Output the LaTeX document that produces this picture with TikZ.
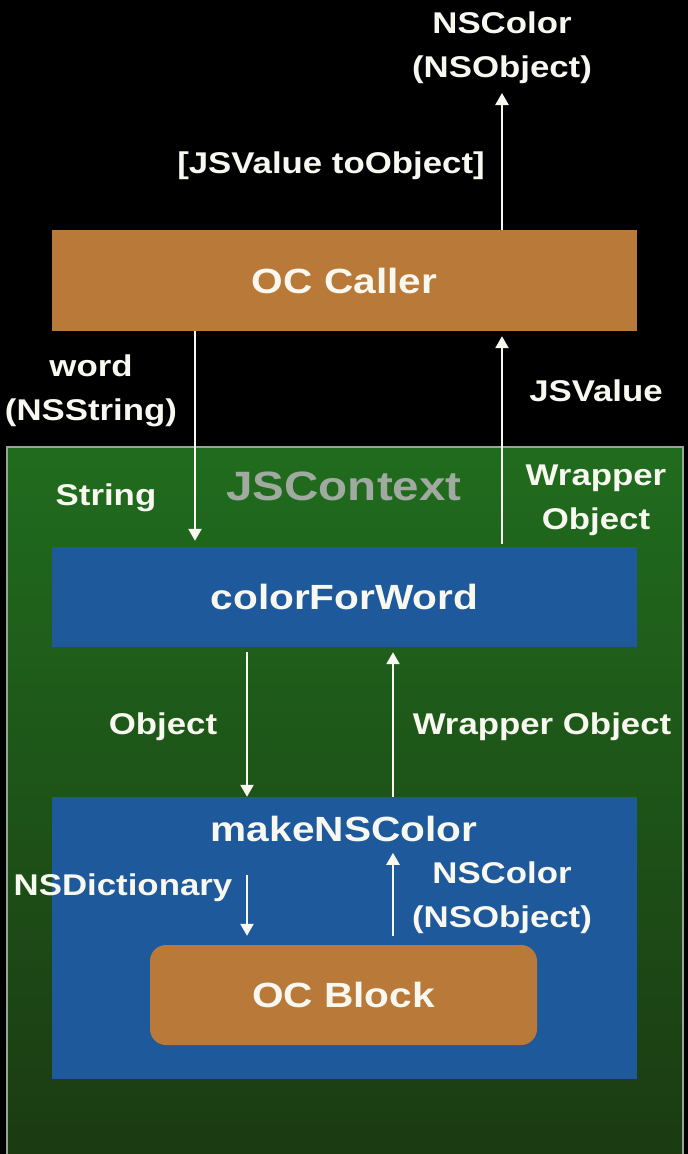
\documentclass[tikz,border=0pt]{standalone}
\usepackage{fontspec}
\setmainfont{Liberation Sans}[FakeStretch=1.16]
\usetikzlibrary{arrows.meta}
\definecolor{copper}{RGB}{185,121,56}
\definecolor{jsblue}{RGB}{30,90,155}
\definecolor{ctxtop}{RGB}{32,108,30}
\definecolor{ctxbot}{RGB}{27,58,18}
\definecolor{ctxline}{RGB}{150,165,150}
\definecolor{ctxtext}{RGB}{160,170,160}
\definecolor{txt}{RGB}{248,248,240}
\begin{document}
\begin{tikzpicture}[x=1pt,y=-1pt,
  box/.style={draw=none, inner sep=0pt, text=txt, font=\fontsize{35}{40}\selectfont\bfseries},
  lbl/.style={text=txt, align=center, inner sep=0pt, font=\fontsize{30}{44}\selectfont\bfseries},
  arr/.style={draw=txt, line width=2.4pt, -{Triangle[width=13pt,length=12pt]}}]
\useasboundingbox (0,0) rectangle (688,1154);
\fill[black] (0,0) rectangle (688,1154);
% JSContext container
\node[draw=ctxline, line width=1.5pt, top color=ctxtop, bottom color=ctxbot,
      minimum width=676pt, minimum height=713pt, inner sep=0pt] (ctx) at (345,803.5) {};
\node[text=ctxtext, inner sep=0pt, font=\fontsize{41}{46}\selectfont\bfseries] (ctxlbl) at (344,486) {JSContext};
% boxes
\node[box, fill=copper, minimum width=585pt, minimum height=101pt] (caller) at (344.5,280.5) {OC Caller};
\node[box, fill=jsblue, minimum width=585pt, minimum height=100pt] (cfw) at (344.5,597) {colorForWord};
\node[box, fill=jsblue, minimum width=585pt, minimum height=282pt] (mk) at (344.5,938) {};
\node[box] (mklbl) at (344,829) {makeNSColor};
\node[box, fill=copper, rounded corners=16pt, minimum width=387pt, minimum height=100pt] (block) at (343.5,995) {OC Block};
% labels
\node[lbl] (topres) at (502,48) {NSColor\\(NSObject)};
\node[lbl] (toobj) at (331,166) {[JSValue toObject]};
\node[lbl] (word) at (91,391) {word\\(NSString)};
\node[lbl] (jsv) at (596,391) {JSValue};
\node[lbl] (str) at (106,498) {String};
\node[lbl] (wrap1) at (596,500) {Wrapper\\Object};
\node[lbl] (obj) at (163,727) {Object};
\node[lbl] (wrap2) at (542,727) {Wrapper Object};
\node[lbl] (dict) at (123,888) {NSDictionary};
\node[lbl] (nsc) at (502,898) {NSColor\\(NSObject)};
\coordinate (toptip) at (502,93);
% connectors
\draw[arr] ([xshift=157.5pt]caller.north) -- (toptip);
\draw[arr] ([xshift=-149.5pt]caller.south) -- ([xshift=-149.5pt,yshift=6pt]cfw.north);
\draw[arr] ([xshift=157.5pt,yshift=3pt]cfw.north) -- ([xshift=157.5pt,yshift=-5pt]caller.south);
\draw[arr] ([xshift=-97.5pt,yshift=-5pt]cfw.south) -- ([xshift=-97.5pt]mk.north);
\draw[arr] ([xshift=48.5pt]mk.north) -- ([xshift=48.5pt,yshift=-5pt]cfw.south);
\draw[arr] ([xshift=-97.5pt,yshift=-78pt]mk.north) -- ([xshift=-96.5pt,yshift=9pt]block.north);
\draw[arr] ([xshift=49.5pt,yshift=9pt]block.north) -- ([xshift=48.5pt,yshift=-56pt]mk.north);
\end{tikzpicture}
\end{document}
